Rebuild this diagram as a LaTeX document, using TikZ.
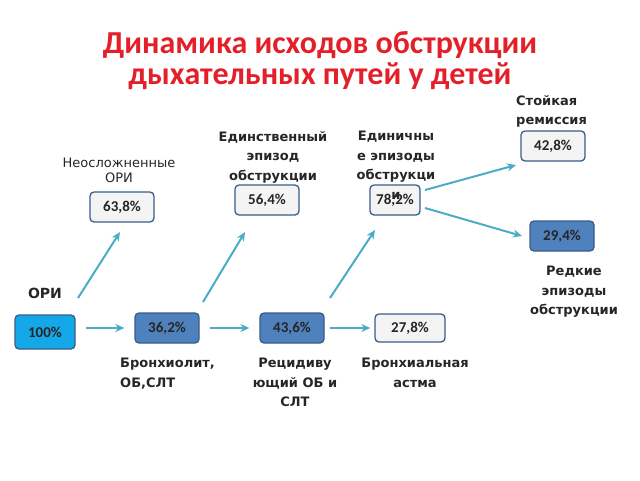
\documentclass[tikz,border=0pt]{standalone}
\usepackage{fontspec}
\setmainfont{DejaVu Sans}
\newfontfamily\titlefont{Carlito}
\newfontfamily\boxfont{Carlito}
\usetikzlibrary{arrows.meta}
\definecolor{titlered}{HTML}{E3202A}
\definecolor{arrowc}{HTML}{4BACC6}
\definecolor{boxblue}{HTML}{4F81BD}
\definecolor{boxbright}{HTML}{14A8E8}
\definecolor{boxborder}{HTML}{385D8A}
\definecolor{boxwhite}{HTML}{F4F4F4}
\definecolor{txt}{HTML}{262626}
\tikzset{
  pbox/.style={draw=boxborder, line width=1.3pt, rounded corners=4pt, minimum width=64pt, minimum height=30pt, inner sep=0pt, font=\boxfont\fontsize{15}{17}\selectfont\bfseries, text=txt},
  bluebox/.style={pbox, fill=boxblue},
  brightbox/.style={pbox, fill=boxbright, minimum width=60pt, minimum height=34pt},
  whitebox/.style={pbox, fill=boxwhite},
  lbl/.style={align=center, font=\fontsize{13}{19.5}\selectfont\bfseries, text=txt, inner sep=0pt},
  flow/.style={draw=arrowc, line width=2pt, -{Stealth[length=9pt,width=8pt]}}
}
\begin{document}
\begin{tikzpicture}[x=1pt,y=-1pt]
\useasboundingbox (0,0) rectangle (640,480);
\node[font=\titlefont\fontsize{32}{31}\selectfont\bfseries, text=titlered, align=center] (title) at (320,61) {Динамика исходов обструкции\\дыхательных путей у детей};

\node[brightbox] (b100) at (45,332) {100\%};
\node[bluebox] (b362) at (167,328) {36,2\%};
\node[bluebox] (b436) at (292,328) {43,6\%};
\node[whitebox, minimum width=70pt, minimum height=28pt] (b278) at (410,328) {27,8\%};
\node[whitebox] (b638) at (122,207) {63,8\%};
\node[whitebox] (b564) at (267,200) {56,4\%};
\node[whitebox, minimum width=50pt] (b782) at (395,200) {78,2\%};
\node[whitebox] (b428) at (553,146) {42,8\%};
\node[bluebox] (b294) at (562,236) {29,4\%};

\coordinate (d1s) at (78,298); \coordinate (d1e) at (120,232);
\coordinate (d2s) at (203,302); \coordinate (d2e) at (245,232);
\coordinate (d3s) at (330,298); \coordinate (d3e) at (375,230);
\coordinate (r1s) at (425,190); \coordinate (r1e) at (516,165);
\coordinate (r2s) at (425,208); \coordinate (r2e) at (522,236);

\draw[flow, shorten <=10pt, shorten >=10pt] (b100.east |- b362.west) -- (b362.west);
\draw[flow, shorten <=10pt, shorten >=10pt] (b362.east) -- (b436.west);
\draw[flow, shorten <=5pt, shorten >=4pt] (b436.east) -- (b278.west);
\draw[flow] (d1s) -- (d1e);
\draw[flow] (d2s) -- (d2e);
\draw[flow] (d3s) -- (d3e);
\draw[flow] (r1s) -- (r1e);
\draw[flow] (r2s) -- (r2e);

\node[lbl, font=\fontsize{14}{16}\selectfont\bfseries] (ori) at (45,293) {ОРИ};
\node[lbl, font=\fontsize{13}{15}\selectfont] (l638) at (119,170) {Неосложненные\\ОРИ};
\node[lbl] (l564) at (273,157) {Единственный\\эпизод\\обструкции};
\node[lbl, anchor=north] (l782) at (396,131) {Единичны\\е эпизоды\\обструкци\\и};
\node[lbl, align=left, anchor=north west] (l428) at (516,95) {Стойкая\\ремиссия};
\node[lbl] (l294) at (574,292) {Редкие\\эпизоды\\обструкции};
\node[lbl, align=left, anchor=north west] (l362) at (120,358) {Бронхиолит,\\ОБ,СЛТ};
\node[lbl, anchor=north] (l436) at (295,358) {Рецидиву\\ющий ОБ и\\СЛТ};
\node[lbl, anchor=north] (l278) at (415,358) {Бронхиальная\\астма};
\end{tikzpicture}
\end{document}
